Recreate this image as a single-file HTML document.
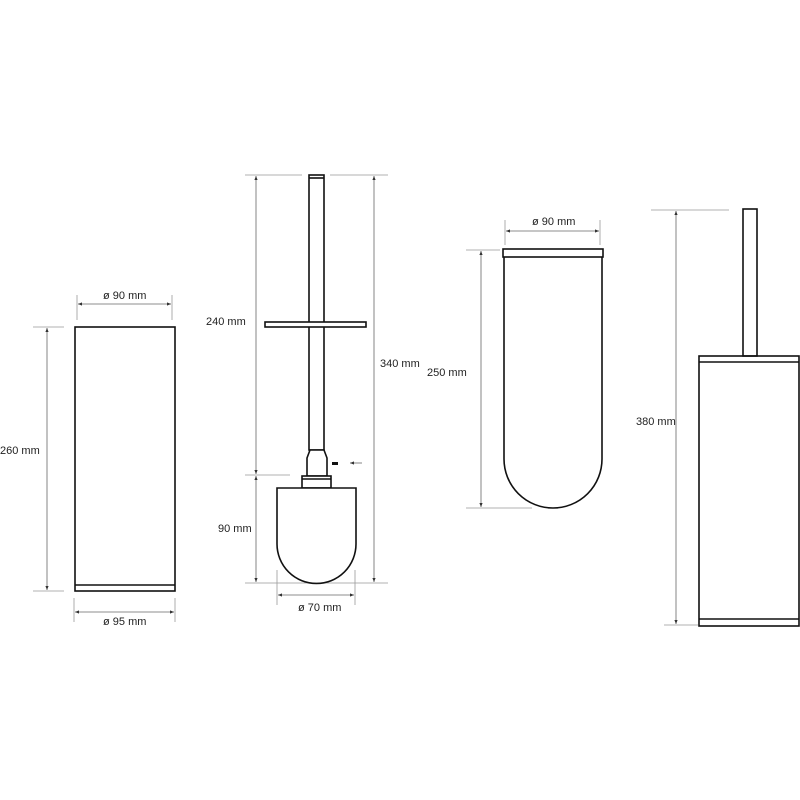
<!DOCTYPE html>
<html><head><style>body{margin:0;background:#fff}svg{display:block}</style></head><body>
<svg width="800" height="800" viewBox="0 0 800 800" xmlns="http://www.w3.org/2000/svg" font-family="Liberation Sans, sans-serif" font-size="11" fill="#222">
<defs><marker id="a" markerWidth="6" markerHeight="6" refX="5" refY="3" orient="auto-start-reverse"><path d="M0,1 L5,3 L0,5z" fill="#333"/></marker></defs>
<g stroke="#999" stroke-width="0.8" fill="none">
<!-- left -->
<line x1="33" y1="327" x2="64" y2="327"/><line x1="33" y1="591" x2="64" y2="591"/>
<line x1="47" y1="328" x2="47" y2="590" marker-start="url(#a)" marker-end="url(#a)" stroke="#666"/>
<line x1="77" y1="295" x2="77" y2="320"/><line x1="172" y1="295" x2="172" y2="320"/>
<line x1="78" y1="304" x2="171" y2="304" marker-start="url(#a)" marker-end="url(#a)" stroke="#666"/>
<line x1="74" y1="598" x2="74" y2="622"/><line x1="175" y1="598" x2="175" y2="622"/>
<line x1="75" y1="612" x2="174" y2="612" marker-start="url(#a)" marker-end="url(#a)" stroke="#666"/>
<!-- brush -->
<line x1="245" y1="175" x2="302" y2="175"/><line x1="330" y1="175" x2="388" y2="175"/>
<line x1="245" y1="475" x2="290" y2="475"/><line x1="245" y1="583" x2="388" y2="583"/>
<line x1="256" y1="176" x2="256" y2="474" marker-start="url(#a)" marker-end="url(#a)" stroke="#666"/>
<line x1="256" y1="476" x2="256" y2="582" marker-start="url(#a)" marker-end="url(#a)" stroke="#666"/>
<line x1="374" y1="176" x2="374" y2="582" marker-start="url(#a)" marker-end="url(#a)" stroke="#666"/>
<line x1="277" y1="570" x2="277" y2="605"/><line x1="355" y1="570" x2="355" y2="605"/>
<line x1="278" y1="595" x2="354" y2="595" marker-start="url(#a)" marker-end="url(#a)" stroke="#666"/>
<line x1="362" y1="463" x2="350" y2="463" marker-end="url(#a)" stroke="#666"/>
<!-- cup -->
<line x1="466" y1="250" x2="500" y2="250"/><line x1="466" y1="508" x2="532" y2="508"/>
<line x1="481" y1="251" x2="481" y2="507" marker-start="url(#a)" marker-end="url(#a)" stroke="#666"/>
<line x1="505" y1="220" x2="505" y2="245"/><line x1="600" y1="220" x2="600" y2="245"/>
<line x1="506" y1="231" x2="599" y2="231" marker-start="url(#a)" marker-end="url(#a)" stroke="#666"/>
<!-- right -->
<line x1="651" y1="210" x2="729" y2="210"/><line x1="664" y1="625" x2="698" y2="625"/>
<line x1="676" y1="211" x2="676" y2="624" marker-start="url(#a)" marker-end="url(#a)" stroke="#666"/>
</g>
<g stroke="#111" stroke-width="1.6" fill="none">
<rect x="75" y="327" width="100" height="264"/><line x1="75" y1="585" x2="175" y2="585"/>
<rect x="309" y="175" width="15" height="275"/><line x1="309" y1="178" x2="324" y2="178"/>
<rect x="265" y="322" width="101" height="5" fill="#fff"/>
<path d="M310,450 L307,458 L307,476 L327,476 L327,458 L324,450z" fill="#fff"/>
<rect x="302" y="476" width="29" height="12" fill="#fff"/><line x1="302" y1="479" x2="331" y2="479"/>
<path d="M277,488 L356,488 L356,544 A39.5,39.5 0 0 1 277,544 Z" fill="#fff"/>
<rect x="332" y="462" width="6" height="3" fill="#111" stroke="none"/>
<rect x="503" y="249" width="100" height="8"/>
<path d="M504,257 L504,459 A49,49 0 0 0 602,459 L602,257"/>
<rect x="743" y="209" width="14" height="147"/>
<rect x="699" y="356" width="100" height="270"/><line x1="699" y1="362" x2="799" y2="362"/><line x1="699" y1="619" x2="799" y2="619"/>
</g>
<text x="0" y="454">260 mm</text>
<text x="103" y="299">ø 90 mm</text>
<text x="103" y="625">ø 95 mm</text>
<text x="206" y="325">240 mm</text>
<text x="218" y="532">90 mm</text>
<text x="298" y="611">ø 70 mm</text>
<text x="380" y="367">340 mm</text>
<text x="427" y="376">250 mm</text>
<text x="532" y="225">ø 90 mm</text>
<text x="636" y="425">380 mm</text>
</svg>
</body></html>
